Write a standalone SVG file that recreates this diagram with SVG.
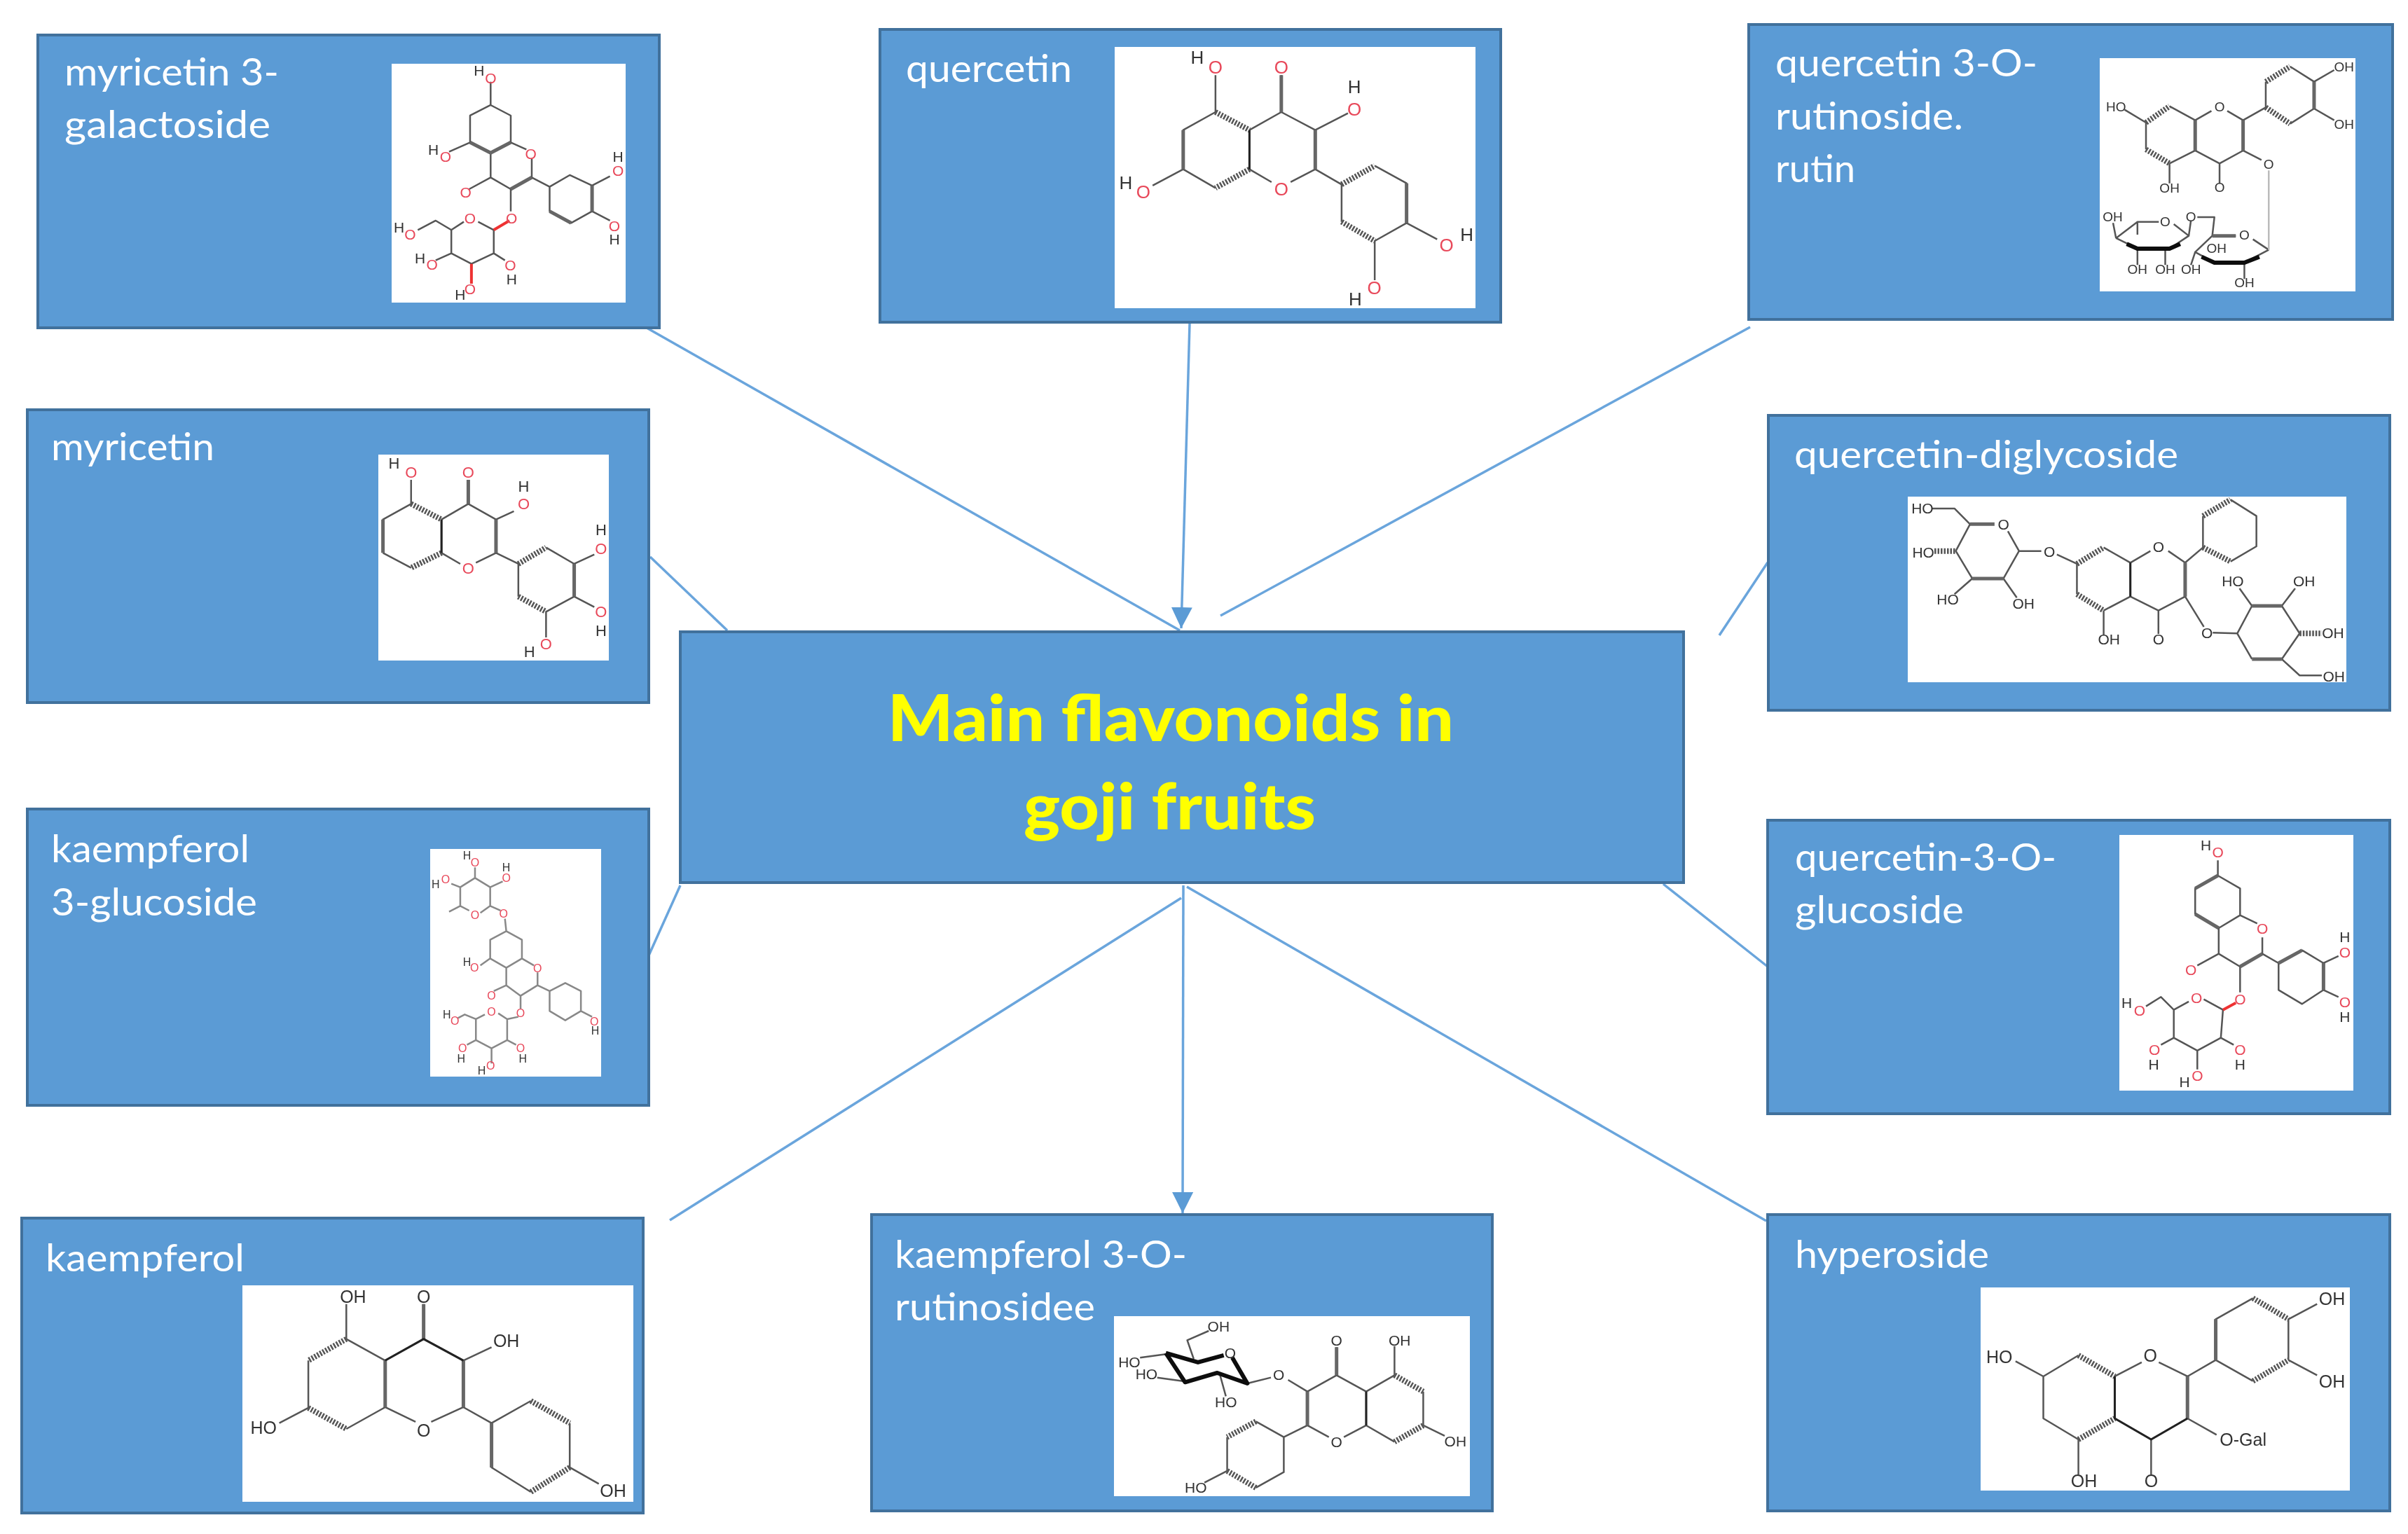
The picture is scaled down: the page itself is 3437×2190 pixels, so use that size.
<svg xmlns="http://www.w3.org/2000/svg" width="3437" height="2190" viewBox="0 0 3437 2190">
<style>
.box{fill:#5b9bd5;stroke:#41719c;stroke-width:4}
.pic{fill:#fff}
.lab{font-family:"Lato","Liberation Sans",sans-serif;font-size:54px;fill:#fff}
.title{font-family:"Lato","Liberation Sans",sans-serif;font-weight:900;font-size:92px;fill:#ff0}
.con{fill:none;stroke:#6aa5dc;stroke-width:3.5}
.mol{filter:url(#soft)}
.mol path{fill:none;stroke:#555;stroke-width:2.5;vector-effect:non-scaling-stroke;stroke-linejoin:round}
.mol path.h{stroke:#555;stroke-width:8;stroke-dasharray:2.5 2}
.mol path.d{stroke:#666;stroke-width:5}
.mol path.k{stroke:#111;stroke-width:6}
.mol path.m{stroke:#222;stroke-width:3}
.mol path.r{stroke:#e33;stroke-width:4}
.mol text{font-family:"Liberation Sans",sans-serif;text-anchor:middle;dominant-baseline:central;fill:#333}
.mol text.o{fill:#e8485a}
</style>
<defs>
<marker id="arrow" markerUnits="userSpaceOnUse" markerWidth="30" markerHeight="30" viewBox="0 0 30 30" refX="30" refY="15" orient="auto"><path d="M0 0L30 15L0 30Z" fill="#5b9bd5"/></marker>
<filter id="soft"><feGaussianBlur stdDeviation="1 1.6"/></filter>
</defs>
<g id="connectors">
<path class="con" d="M923 468L1684 900"/>
<path class="con" d="M1698 462L1686 897" marker-end="url(#arrow)"/>
<path class="con" d="M2498 467L1742 879"/>
<path class="con" d="M928 795L1038 900"/>
<path class="con" d="M971 1264L926 1364"/>
<path class="con" d="M1686 1282L956 1742"/>
<path class="con" d="M1689 1264L1688 1732" marker-end="url(#arrow)"/>
<path class="con" d="M1694 1266L2521 1743"/>
<path class="con" d="M2374 1262L2523 1380"/>
<path class="con" d="M2523 803L2454 907"/>
</g>
<g id="node-center">
<rect class="box" x="971" y="902" width="1432" height="358"/>
<text class="title" x="1267" y="1058" textLength="808" lengthAdjust="spacingAndGlyphs">Main flavonoids in</text>
<text class="title" x="1461" y="1184" textLength="417" lengthAdjust="spacingAndGlyphs">goji fruits</text>
</g>
<g id="node-myricetin-3-galactoside">
<rect class="box" x="54" y="50" width="887" height="418"/>
<text class="lab" x="92" y="122" textLength="306" lengthAdjust="spacingAndGlyphs">myricetin  3-</text>
<text class="lab" x="92" y="197" textLength="294" lengthAdjust="spacingAndGlyphs">galactoside</text>
<rect class="pic" x="559" y="91" width="334" height="341"/>
<g class="mol" font-size="21" transform="scale(.6378 .3333)">
<path d="M1098 350V450L1052 495V610L1098 655L1143 610V495L1098 450M1052 610L1005 650M1143 610L1178 640M1190 680V760L1143 810L1098 760V655M1098 760L1050 810M1190 760L1230 800L1275 750L1325 795V905L1278 955L1230 905V800M1325 795L1365 755M1325 905L1365 945M1143 810V905M1105 985L1070 950M1038 950L1010 985V1085L1055 1130L1105 1085V985M1010 985L975 945L935 985M1010 1085L975 1115M1105 1085L1130 1115"/>
<path class="d" d="M1052 610L1098 655L1143 610M1190 760L1143 810M1325 795V905M1230 905L1278 955"/>
<path class="r" d="M1140 945L1105 985M1055 1130V1215"/>
<text class="t" transform="translate(1072 303) scale(1.568 3)">H</text><text class="o" transform="translate(1098 335) scale(1.568 3)">O</text>
<text class="o" transform="translate(997 670) scale(1.568 3)">O</text><text transform="translate(970 640) scale(1.568 3)">H</text>
<text class="o" transform="translate(1188 660) scale(1.568 3)">O</text><text class="o" transform="translate(1042 825) scale(1.568 3)">O</text>
<text class="o" transform="translate(1383 730) scale(1.568 3)">O</text><text transform="translate(1383 672) scale(1.568 3)">H</text>
<text class="o" transform="translate(1375 968) scale(1.568 3)">O</text><text transform="translate(1375 1025) scale(1.568 3)">H</text>
<text class="o" transform="translate(1145 935) scale(1.568 3)">O</text><text class="o" transform="translate(1052 935) scale(1.568 3)">O</text>
<text class="o" transform="translate(918 1003) scale(1.568 3)">O</text><text transform="translate(893 975) scale(1.568 3)">H</text>
<text class="o" transform="translate(967 1133) scale(1.568 3)">O</text><text transform="translate(940 1107) scale(1.568 3)">H</text>
<text class="o" transform="translate(1052 1238) scale(1.568 3)">O</text><text transform="translate(1030 1262) scale(1.568 3)">H</text>
<text class="o" transform="translate(1142 1135) scale(1.568 3)">O</text><text transform="translate(1145 1195) scale(1.568 3)">H</text>
</g>
</g>
<g id="node-quercetin">
<rect class="box" x="1256" y="42" width="886" height="418"/>
<text class="lab" x="1293" y="117" textLength="237" lengthAdjust="spacingAndGlyphs">quercetin</text>
<rect class="pic" x="1591" y="67" width="515" height="373"/>
<g class="mol" font-size="26" transform="translate(1230 20) scale(.6061 .3333)">
<path d="M833 262V420M988 262V420M1145 425L1068 497M757 665V497L833 420M913 497V665M757 665L833 745M913 497L988 420L1068 497V665L1010 720M965 720L913 665M757 665L685 735M1068 665L1130 730V890M1208 650L1283 725V895L1208 972V1140M1283 895L1355 965"/>
<path class="h" d="M833 420L913 497M913 665L833 745M1130 730L1208 650M1130 890L1208 972"/>
<path class="d" d="M757 497V665M1068 497V665M1283 725V895M988 262V420"/>
<path class="m" d="M913 497V665"/>
<text transform="translate(790 185) scale(1.65 3)">H</text><text class="o" transform="translate(833 228) scale(1.65 3)">O</text>
<text class="o" transform="translate(988 228) scale(1.65 3)">O</text>
<text transform="translate(1160 312) scale(1.65 3)">H</text><text class="o" transform="translate(1160 408) scale(1.65 3)">O</text>
<text class="o" transform="translate(988 750) scale(1.65 3)">O</text>
<text class="o" transform="translate(663 762) scale(1.65 3)">O</text><text transform="translate(622 722) scale(1.65 3)">H</text>
<text class="o" transform="translate(1377 990) scale(1.65 3)">O</text><text transform="translate(1425 945) scale(1.65 3)">H</text>
<text class="o" transform="translate(1207 1172) scale(1.65 3)">O</text><text transform="translate(1162 1220) scale(1.65 3)">H</text>
</g>
</g>
<g id="node-rutin">
<rect class="box" x="2496" y="35" width="919" height="421"/>
<text class="lab" x="2534" y="109" textLength="374" lengthAdjust="spacingAndGlyphs">quercetin  3-O-</text>
<text class="lab" x="2534" y="185" textLength="268" lengthAdjust="spacingAndGlyphs">rutinoside.</text>
<text class="lab" x="2534" y="260" textLength="114" lengthAdjust="spacingAndGlyphs">rutin</text>
<rect class="pic" x="2997" y="83" width="365" height="333"/>
<g class="mol" font-size="19" transform="translate(2480 20) scale(.6105 .3333)">
<path d="M905 410L955 465V580M1010 395L1070 455V585L1010 640M1070 455L1108 415M1145 415L1182 455V585L1127 640L1070 585M1182 455L1235 400V290M1292 225L1348 290V405L1292 470M1348 290L1395 240M1348 405L1395 455M1010 640V725M1127 640V725M1182 585L1225 625M1242 1010L1205 965M1242 1010L1185 1065M1115 1065L1070 1020L1110 950H1165M1110 950L1115 870H1075M1070 1020L1060 1075M1185 1065V1135M885 960L935 890H985M1020 900L1055 950L1010 1005M935 1005L885 960M935 890V945M885 960L878 895M935 1005V1075M1000 1005V1075M1055 950L1060 885"/>
<path d="M1242 670V1010" style="stroke:#bbb"/>
<path class="h" d="M955 465L1010 395M955 580L1010 640M1235 290L1292 225M1235 400L1292 470"/>
<path class="d" d="M1070 455V585M1182 455V585M1348 290V405M1110 950H1165"/>
<path class="k" d="M1085 1040L1115 1065H1185L1220 1040M910 985L935 1005H1010L1035 985"/>
<text transform="translate(885 397) scale(1.638 3)">HO</text><text transform="translate(1127 397) scale(1.638 3)">O</text>
<text transform="translate(1418 228) scale(1.638 3)">OH</text><text transform="translate(1418 472) scale(1.638 3)">OH</text>
<text transform="translate(1010 745) scale(1.638 3)">OH</text><text transform="translate(1127 742) scale(1.638 3)">O</text>
<text transform="translate(1242 645) scale(1.638 3)">O</text><text transform="translate(1185 947) scale(1.638 3)">O</text>
<text transform="translate(1060 868) scale(1.638 3)">O</text><text transform="translate(1120 1005) scale(1.638 3)">OH</text>
<text transform="translate(1060 1095) scale(1.638 3)">OH</text><text transform="translate(1185 1152) scale(1.638 3)">OH</text>
<text transform="translate(1000 890) scale(1.638 3)">O</text><text transform="translate(877 868) scale(1.638 3)">OH</text>
<text transform="translate(935 1095) scale(1.638 3)">OH</text><text transform="translate(1000 1095) scale(1.638 3)">OH</text>
</g>
</g>
<g id="node-myricetin">
<rect class="box" x="39" y="585" width="887" height="418"/>
<text class="lab" x="73" y="657" textLength="233" lengthAdjust="spacingAndGlyphs">myricetin</text>
<rect class="pic" x="540" y="649" width="329" height="294"/>
<g class="mol" font-size="22" transform="translate(0 560) scale(.6378 .3333)">
<path d="M920 375V478M1048 375V478M1150 510L1110 545M857 688V545L920 478M857 688L920 752M988 545V688M988 545L1048 478L1110 545V688L1065 730M1030 735L988 688M1110 688L1160 735V875M1222 665L1285 735V875L1222 940V1050M1285 735L1330 695M1285 875L1330 920"/>
<path class="h" d="M920 478L988 545M988 688L920 752M1160 735L1222 665M1160 875L1222 940"/>
<path class="d" d="M857 545V688M1110 545V688M1285 735V875M1048 375V478"/>
<path class="m" d="M988 545V688"/>
<text transform="translate(882 305) scale(1.568 3)">H</text><text class="o" transform="translate(920 345) scale(1.568 3)">O</text>
<text class="o" transform="translate(1048 345) scale(1.568 3)">O</text>
<text transform="translate(1172 405) scale(1.568 3)">H</text><text class="o" transform="translate(1172 480) scale(1.568 3)">O</text>
<text class="o" transform="translate(1048 755) scale(1.568 3)">O</text>
<text class="o" transform="translate(1345 670) scale(1.568 3)">O</text><text transform="translate(1345 590) scale(1.568 3)">H</text>
<text class="o" transform="translate(1345 940) scale(1.568 3)">O</text><text transform="translate(1345 1022) scale(1.568 3)">H</text>
<text class="o" transform="translate(1222 1078) scale(1.568 3)">O</text><text transform="translate(1185 1112) scale(1.568 3)">H</text>
</g>
</g>
<g id="node-kaempferol-3-glucoside">
<rect class="box" x="39" y="1155" width="887" height="423"/>
<text class="lab" x="73" y="1231" textLength="283" lengthAdjust="spacingAndGlyphs">kaempferol</text>
<text class="lab" x="73" y="1307" textLength="294" lengthAdjust="spacingAndGlyphs">3-glucoside</text>
<rect class="pic" x="614" y="1212" width="244" height="325"/>
<g class="mol" font-size="16" transform="translate(0 1130) scale(.6378 .3333)">
<path style="stroke:#888" d="M1063 325V370L1030 410V490L1050 510M1075 520L1097 490V410L1063 370M1097 410L1125 385M1030 410L1010 395M1030 490L1005 515M1097 490L1120 510M1130 545L1133 598L1097 635V715L1133 755L1168 715V635L1133 598M1097 715L1075 745M1168 715L1195 745M1203 775V830L1165 875L1133 830V755M1133 830L1105 855M1203 830L1230 855L1265 820L1300 855V940L1265 980L1230 940V855M1300 940L1325 965M1165 875V930M1160 965L1135 975L1115 950M1085 955L1065 975V1065L1100 1100L1135 1065V975M1065 975L1040 955L1025 970M1065 1065L1045 1085M1135 1065L1155 1085M1100 1100V1165"/>
<text transform="translate(1045 275) scale(1.568 3)">H</text><text class="o" transform="translate(1063 305) scale(1.568 3)">O</text>
<text class="o" transform="translate(1063 530) scale(1.568 3)">O</text>
<text class="o" transform="translate(1133 370) scale(1.568 3)">O</text><text transform="translate(1133 325) scale(1.568 3)">H</text>
<text class="o" transform="translate(997 378) scale(1.568 3)">O</text><text transform="translate(975 398) scale(1.568 3)">H</text>
<text class="o" transform="translate(1127 525) scale(1.568 3)">O</text>
<text class="o" transform="translate(1062 755) scale(1.568 3)">O</text><text transform="translate(1045 730) scale(1.568 3)">H</text>
<text class="o" transform="translate(1203 758) scale(1.568 3)">O</text><text class="o" transform="translate(1100 875) scale(1.568 3)">O</text>
<text class="o" transform="translate(1330 985) scale(1.568 3)">O</text><text transform="translate(1332 1025) scale(1.568 3)">H</text>
<text class="o" transform="translate(1165 950) scale(1.568 3)">O</text><text class="o" transform="translate(1100 945) scale(1.568 3)">O</text>
<text class="o" transform="translate(1018 982) scale(1.568 3)">O</text><text transform="translate(1000 955) scale(1.568 3)">H</text>
<text class="o" transform="translate(1035 1100) scale(1.568 3)">O</text><text transform="translate(1032 1145) scale(1.568 3)">H</text>
<text class="o" transform="translate(1165 1100) scale(1.568 3)">O</text><text transform="translate(1170 1145) scale(1.568 3)">H</text>
<text class="o" transform="translate(1098 1175) scale(1.568 3)">O</text><text transform="translate(1078 1195) scale(1.568 3)">H</text>
</g>
</g>
<g id="node-kaempferol">
<rect class="box" x="31" y="1739" width="887" height="421"/>
<text class="lab" x="65" y="1815" textLength="284" lengthAdjust="spacingAndGlyphs">kaempferol</text>
<rect class="pic" x="346" y="1835" width="558" height="309"/>
<g class="mol" font-size="25" transform="translate(0 1710) scale(.6378 .3333)">
<path d="M775 455V605M948 455V605M1100 640L1037 697M625 965L690 900V697M775 605L862 697V897L775 990M862 697L948 605L1037 697V897L965 960M930 960L862 897M1037 897L1100 965L1188 870M1275 965V1155M1188 1260L1100 1155V965M1275 1155L1340 1225"/>
<path class="h" d="M775 605L690 697M690 900L775 990M1188 870L1275 965M1275 1155L1188 1260"/>
<path class="d" d="M862 697V897M1037 697V897M1100 965V1155M948 455V605"/>
<path class="m" d="M862 697L948 605L1037 697"/>
<text transform="translate(790 423) scale(1.568 3)">OH</text><text transform="translate(948 423) scale(1.568 3)">O</text>
<text transform="translate(1133 613) scale(1.568 3)">OH</text><text transform="translate(590 985) scale(1.568 3)">HO</text>
<text transform="translate(948 995) scale(1.568 3)">O</text><text transform="translate(1372 1255) scale(1.568 3)">OH</text>
</g>
</g>
<g id="node-kaempferol-3-o-rutinosidee">
<rect class="box" x="1244" y="1734" width="886" height="423"/>
<text class="lab" x="1277" y="1810" textLength="417" lengthAdjust="spacingAndGlyphs">kaempferol 3-O-</text>
<text class="lab" x="1277" y="1885" textLength="286" lengthAdjust="spacingAndGlyphs">rutinosidee</text>
<rect class="pic" x="1590" y="1879" width="508" height="257"/>
<g class="mol" font-size="21" transform="translate(1220 1700) scale(.6124 .3333)">
<path d="M825 600L775 640L790 720M665 715L725 700M705 800L765 815M850 780L865 880M915 825L970 800M1010 810L1055 860L1123 790L1192 860V1005L1140 1055M1105 1055L1055 1005V860M1123 670V790M1192 860L1258 790M1325 860V1005M1258 1075L1192 1005M1258 665V790M1325 1005L1375 1050M1055 1005L1000 1055L935 988M868 1055V1200M935 1272L1000 1205V1055M868 1200L815 1250"/>
<path class="k" d="M725 695L800 735L860 705M880 715L915 825L845 780L770 820L725 695"/>
<path class="h" d="M1258 790L1325 860M1325 1005L1258 1075M935 988L868 1055M868 1200L935 1272"/>
<path class="d" d="M1055 860V1005M1123 670V790"/>
<path class="m" d="M1192 860V1005"/>
<text transform="translate(848 582) scale(1.633 3)">OH</text><text transform="translate(875 695) scale(1.633 3)">O</text>
<text transform="translate(640 735) scale(1.633 3)">HO</text><text transform="translate(680 785) scale(1.633 3)">HO</text>
<text transform="translate(865 905) scale(1.633 3)">HO</text><text transform="translate(988 788) scale(1.633 3)">O</text>
<text transform="translate(1123 1075) scale(1.633 3)">O</text><text transform="translate(1123 642) scale(1.633 3)">O</text>
<text transform="translate(1270 642) scale(1.633 3)">OH</text><text transform="translate(1400 1072) scale(1.633 3)">OH</text>
<text transform="translate(795 1270) scale(1.633 3)">HO</text>
</g>
</g>
<g id="node-hyperoside">
<rect class="box" x="2523" y="1734" width="888" height="423"/>
<text class="lab" x="2562" y="1810" textLength="277" lengthAdjust="spacingAndGlyphs">hyperoside</text>
<rect class="pic" x="2827" y="1838" width="527" height="290"/>
<g class="mol" font-size="25" transform="translate(2480 1700) scale(.6105 .3333)">
<path d="M1355 485L1288 550V725M1205 460L1118 550V725L1205 815M1355 790L1288 725M1118 725L1052 795L985 735M945 735L882 795V975L967 1065L1052 975V795M797 705L715 795V975L797 1065M650 730L715 795M797 1065V1215M967 1065V1215M1052 975L1120 1045"/>
<path class="h" d="M1205 460L1288 550M1205 815L1288 725M797 705L882 795M797 1065L882 975"/>
<path class="d" d="M1118 550V725M1052 795V975"/>
<path class="m" d="M882 795V975L967 1065L1052 975"/>
<text transform="translate(1390 462) scale(1.638 3)">OH</text><text transform="translate(1390 815) scale(1.638 3)">OH</text>
<text transform="translate(965 705) scale(1.638 3)">O</text><text transform="translate(612 712) scale(1.638 3)">HO</text>
<text transform="translate(810 1242) scale(1.638 3)">OH</text><text transform="translate(967 1242) scale(1.638 3)">O</text>
<text transform="translate(1182 1065) scale(1.638 3)">O-Gal</text>
</g>
</g>
<g id="node-quercetin-3-o-glucoside">
<rect class="box" x="2523" y="1171" width="888" height="419"/>
<text class="lab" x="2562" y="1243" textLength="373" lengthAdjust="spacingAndGlyphs">quercetin-3-O-</text>
<text class="lab" x="2562" y="1318" textLength="241" lengthAdjust="spacingAndGlyphs">glucoside</text>
<rect class="pic" x="3025" y="1192" width="334" height="365"/>
<g class="mol" font-size="21" transform="translate(2480 1150) scale(.6105 .3333)">
<path d="M1123 235V300L1070 355V465L1125 525L1175 470V355L1123 300M1175 470L1215 505M1227 565V635L1175 690L1125 635V525M1125 635L1075 685M1227 635L1265 675L1320 620L1370 675V790L1320 850L1265 790V675M1370 675L1405 645M1370 790L1405 820M1175 690V800M1135 875L1090 830M1055 840L1020 875V995L1075 1050L1130 995L1135 875M1020 875L990 820L955 860M1020 995L990 1025M1130 995L1160 1025M1075 1050V1130"/>
<path class="d" d="M1070 465L1125 525M1123 300L1070 355M1175 690L1227 635M1265 675L1320 620M1370 675V790"/>
<path class="r" d="M1165 845L1135 875"/>
<text transform="translate(1095 170) scale(1.638 3)">H</text><text class="o" transform="translate(1123 200) scale(1.638 3)">O</text>
<text class="o" transform="translate(1227 528) scale(1.638 3)">O</text><text class="o" transform="translate(1060 703) scale(1.638 3)">O</text>
<text class="o" transform="translate(1420 628) scale(1.638 3)">O</text><text transform="translate(1420 562) scale(1.638 3)">H</text>
<text class="o" transform="translate(1420 842) scale(1.638 3)">O</text><text transform="translate(1420 905) scale(1.638 3)">H</text>
<text class="o" transform="translate(1175 830) scale(1.638 3)">O</text><text class="o" transform="translate(1073 825) scale(1.638 3)">O</text>
<text class="o" transform="translate(940 878) scale(1.638 3)">O</text><text transform="translate(910 845) scale(1.638 3)">H</text>
<text class="o" transform="translate(975 1045) scale(1.638 3)">O</text><text transform="translate(973 1110) scale(1.638 3)">H</text>
<text class="o" transform="translate(1175 1045) scale(1.638 3)">O</text><text transform="translate(1175 1110) scale(1.638 3)">H</text>
<text class="o" transform="translate(1075 1158) scale(1.638 3)">O</text><text transform="translate(1045 1185) scale(1.638 3)">H</text>
</g>
</g>
<g id="node-quercetin-diglycoside">
<rect class="box" x="2524" y="593" width="887" height="421"/>
<text class="lab" x="2561" y="668" textLength="548" lengthAdjust="spacingAndGlyphs">quercetin-diglycoside</text>
<rect class="pic" x="2723" y="709" width="626" height="265"/>
<g class="mol" font-size="21" transform="translate(2440 570) scale(.6357 .3333)">
<path d="M500 468H550L585 535M670 565L695 650L660 768M590 768L553 650L585 535M590 768L550 835M660 768L690 850M695 650H745M780 665L825 705V835M885 635L945 700V845L885 905M945 700L990 650M1030 650L1068 700V845L1008 905L945 845M885 905V1010M1008 905V1005M1068 700L1108 635V500M1170 430L1228 500V630L1170 695M1068 845L1110 975M1130 1000L1185 1003L1218 885M1285 885L1325 1003L1285 1113M1218 1113L1185 1003M1218 885L1190 810M1285 885L1315 810M1285 1113L1325 1183H1375"/>
<path class="d" d="M585 535H640M590 768H660M1218 885H1285M1218 1113H1285M1068 700V845"/>
<path class="h" d="M505 650H553M825 705L885 635M825 835L885 905M1108 500L1170 430M1108 635L1170 695M1325 1003H1375"/>
<path class="m" d="M945 700V845"/>
<text transform="translate(478 468) scale(1.573 3)">HO</text><text transform="translate(660 535) scale(1.573 3)">O</text>
<text transform="translate(480 655) scale(1.573 3)">HO</text><text transform="translate(535 858) scale(1.573 3)">HO</text>
<text transform="translate(705 875) scale(1.573 3)">OH</text><text transform="translate(763 652) scale(1.573 3)">O</text>
<text transform="translate(1008 632) scale(1.573 3)">O</text><text transform="translate(897 1028) scale(1.573 3)">OH</text>
<text transform="translate(1008 1028) scale(1.573 3)">O</text><text transform="translate(1117 1002) scale(1.573 3)">O</text>
<text transform="translate(1175 778) scale(1.573 3)">HO</text><text transform="translate(1335 778) scale(1.573 3)">OH</text>
<text transform="translate(1400 1000) scale(1.573 3)">OH</text><text transform="translate(1402 1187) scale(1.573 3)">OH</text>
</g>
</g>
</svg>
